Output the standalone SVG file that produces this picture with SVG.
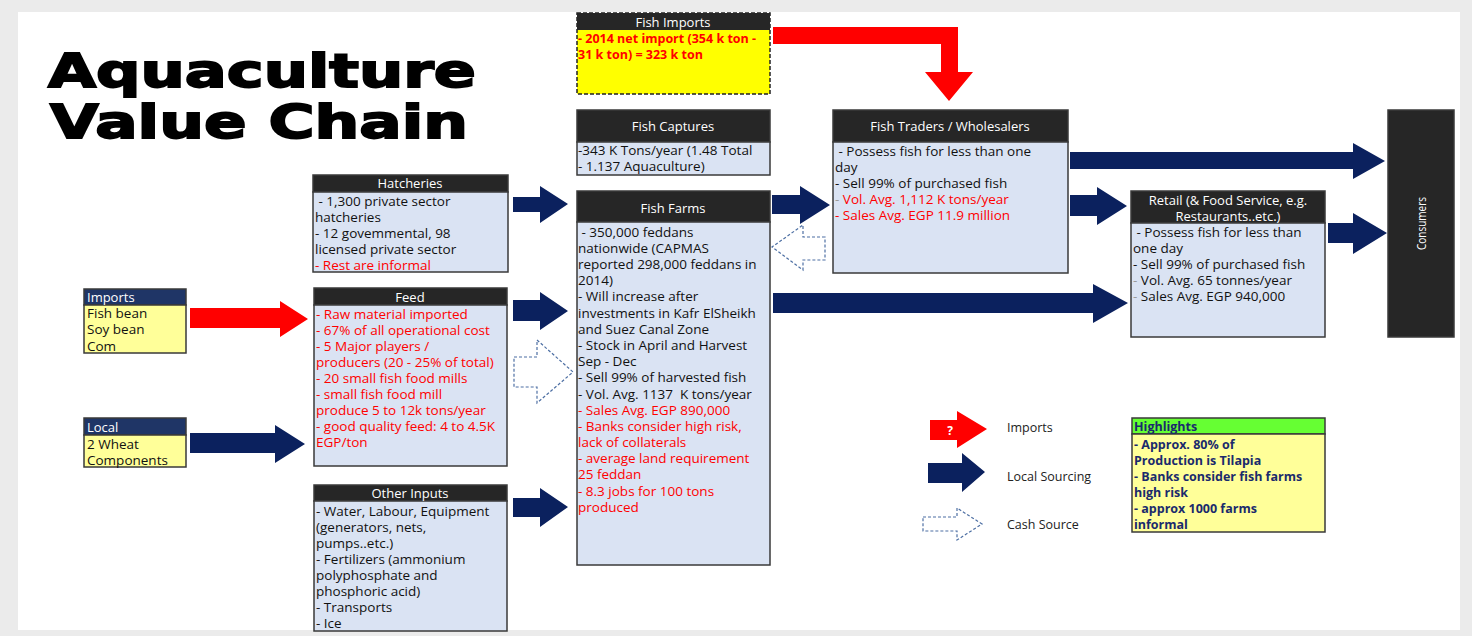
<svg xmlns="http://www.w3.org/2000/svg" width="1472" height="636" viewBox="0 0 1472 636">
<style>
.hdr{fill:#262626;stroke:#3a3a3a;stroke-width:1.5}
.body{fill:#dae3f3;stroke:#3a3a3a;stroke-width:1.5}
.ylw{fill:#ffff99;stroke:#3a3a3a;stroke-width:1.5}
.nhdr{fill:#1f3566;stroke:#3a3a3a;stroke-width:1.5}
.ht{fill:#ffffff;font-family:"Open Sans",sans-serif;font-size:13px;text-anchor:middle}
.t{fill:#111111;font-family:"Open Sans",sans-serif;font-size:13.5px}
.r{fill:#ff0000}
.g{fill:#9a9a9a}
.navy{fill:#0b215e}
.red{fill:#ff0000}
.cash{fill:none;stroke:#4d6fa3;stroke-width:1.2;stroke-dasharray:3 2}
.title{font-family:"DejaVu Sans",sans-serif;font-weight:bold;font-size:46px;fill:#000;stroke:#000;stroke-width:1.8}
.hl{fill:#1a2a6c;font-family:"Open Sans",sans-serif;font-size:12.5px;font-weight:bold}
.lg{fill:#222;font-family:"Open Sans",sans-serif;font-size:12.5px}
</style>
<rect x="0" y="0" width="1472" height="636" fill="#ebebeb"/>
<rect x="18" y="12" width="1442" height="618" fill="#ffffff"/>

<g id="title">
<text class="title" x="48" y="87" textLength="428" lengthAdjust="spacingAndGlyphs">Aquaculture</text>
<text class="title" x="50" y="138" textLength="418" lengthAdjust="spacingAndGlyphs">Value Chain</text>
</g>

<g id="connectors">
<path class="red" d="M773,27 H958 V72 H973 L949,101 L925,72 H941 V44 H773 Z"/>
<path class="red" d="M190,308 H280 V301 L308,319 L280,337 V328 H190 Z"/>
<path class="navy" d="M190,433 H275 V425 L305,444 L275,463 V453 H190 Z"/>
<path class="navy" d="M513,197 H540 V186 L568,204 L540,223 V212 H513 Z"/>
<path class="navy" d="M513,300 H540 V292 L568,311 L540,330 V321 H513 Z"/>
<path class="navy" d="M513,498 H540 V488 L568,507 L540,527 V517 H513 Z"/>
<path class="cash" d="M514,357 H537 V340 L573,372 L537,403 V387 H514 Z"/>
<path class="navy" d="M772,195 H800 V186 L830,205 L800,224 V214 H772 Z"/>
<path class="cash" d="M825,237 H803 V225 L772,247 L803,270 V260 H825 Z"/>
<path class="navy" d="M773,293 H1093 V284 L1128,303 L1093,323 V313 H773 Z"/>
<path class="navy" d="M1070,195 H1097 V187 L1127,206 L1097,225 V216 H1070 Z"/>
<path class="navy" d="M1070,152 H1353 V143 L1385,161 L1353,179 V169 H1070 Z"/>
<path class="navy" d="M1328,223 H1353 V213 L1387,233 L1353,254 V243 H1328 Z"/>
</g>

<g id="fish-imports">
<rect x="577" y="13" width="193" height="81" fill="#ffff00" stroke="#222" stroke-width="1.5" stroke-dasharray="4 2"/>
<rect x="577" y="13" width="193" height="17" fill="#262626"/>
<text class="ht" x="673" y="26.5">Fish Imports</text>
<text class="t r" font-weight="bold" style="font-size:12.5px"><tspan x="578" y="43">- 2014 net import (354 k ton -</tspan><tspan x="578" y="58.5">31 k ton) = 323 k ton</tspan></text>
</g>

<g id="fish-captures">
<rect class="hdr" x="577" y="110" width="193" height="32"/>
<rect class="body" x="577" y="142" width="193" height="33"/>
<text class="ht" x="673" y="130.5">Fish Captures</text>
<text class="t"><tspan x="578" y="155">-343 K Tons/year (1.48 Total</tspan><tspan x="578" y="171">- 1.137 Aquaculture)</tspan></text>
</g>

<g id="fish-farms">
<rect class="hdr" x="577" y="191" width="193" height="31"/>
<rect class="body" x="577" y="222" width="193" height="343"/>
<text class="ht" x="673" y="212.5">Fish Farms</text>
<text class="t">
<tspan x="578" y="236.5">&#160;- 350,000 feddans</tspan>
<tspan x="578" dy="16.2">nationwide (CAPMAS</tspan>
<tspan x="578" dy="16.2">reported 298,000 feddans in</tspan>
<tspan x="578" dy="16.2">2014)</tspan>
<tspan x="578" dy="16.2">- Will increase after</tspan>
<tspan x="578" dy="16.2">investments in Kafr ElSheikh</tspan>
<tspan x="578" dy="16.2">and Suez Canal Zone</tspan>
<tspan x="578" dy="16.2">- Stock in April and Harvest</tspan>
<tspan x="578" dy="16.2">Sep - Dec</tspan>
<tspan x="578" dy="16.2">- Sell 99% of harvested fish</tspan>
<tspan x="578" dy="16.2">- Vol. Avg. 1137&#160; K tons/year</tspan>
<tspan class="r" x="578" dy="16.2">- Sales Avg. EGP 890,000</tspan>
<tspan class="r" x="578" dy="16.2">- Banks consider high risk,</tspan>
<tspan class="r" x="578" dy="16.2">lack of collaterals</tspan>
<tspan class="r" x="578" dy="16.2">- average land requirement</tspan>
<tspan class="r" x="578" dy="16.2">25 feddan</tspan>
<tspan class="r" x="578" dy="16.2">- 8.3 jobs for 100 tons</tspan>
<tspan class="r" x="578" dy="16.2">produced</tspan>
</text>
</g>

<g id="fish-traders">
<rect class="hdr" x="833" y="110" width="235" height="32"/>
<rect class="body" x="833" y="142" width="235" height="131"/>
<text class="ht" x="950" y="130.5">Fish Traders / Wholesalers</text>
<text class="t">
<tspan x="835" y="155.5">&#160;- Possess fish for less than one</tspan>
<tspan x="835" dy="16.1">day</tspan>
<tspan x="835" dy="16.1">- Sell 99% of purchased fish</tspan>
<tspan x="835" dy="16.1"><tspan class="g">-</tspan><tspan class="r"> Vol. Avg. 1,112 K tons/year</tspan></tspan>
<tspan class="r" x="835" dy="16.1">- Sales Avg. EGP 11.9 million</tspan>
</text>
</g>

<g id="hatcheries">
<rect class="hdr" x="313" y="175" width="195" height="17"/>
<rect class="body" x="313" y="192" width="195" height="80"/>
<text class="ht" x="410" y="187.5">Hatcheries</text>
<text class="t">
<tspan x="315" y="205.5">&#160;- 1,300 private sector</tspan>
<tspan x="315" dy="16">hatcheries</tspan>
<tspan x="315" dy="16">- 12 govemmental, 98</tspan>
<tspan x="315" dy="16">licensed private sector</tspan>
<tspan class="r" x="315" dy="16">- Rest are informal</tspan>
</text>
</g>

<g id="feed">
<rect class="hdr" x="314" y="288" width="193" height="17"/>
<rect class="body" x="314" y="305" width="193" height="161"/>
<text class="ht" x="410" y="301.5">Feed</text>
<text class="t r">
<tspan x="316" y="318.5">- Raw material imported</tspan>
<tspan x="316" dy="16.1">- 67% of all operational cost</tspan>
<tspan x="316" dy="16.1">- 5 Major players /</tspan>
<tspan x="316" dy="16.1">producers (20 - 25% of total)</tspan>
<tspan x="316" dy="16.1">- 20 small fish food mills</tspan>
<tspan x="316" dy="16.1">- small fish food mill</tspan>
<tspan x="316" dy="16.1">produce 5 to 12k tons/year</tspan>
<tspan x="316" dy="16.1">- good quality feed: 4 to 4.5K</tspan>
<tspan x="316" dy="16.1">EGP/ton</tspan>
</text>
</g>

<g id="other-inputs">
<rect class="hdr" x="314" y="485" width="193" height="16"/>
<rect class="body" x="314" y="501" width="193" height="130"/>
<text class="ht" x="410" y="497.5">Other Inputs</text>
<text class="t">
<tspan x="316" y="515.5">- Water, Labour, Equipment</tspan>
<tspan x="316" dy="16.1">(generators, nets,</tspan>
<tspan x="316" dy="16.1">pumps..etc.)</tspan>
<tspan x="316" dy="16.1">- Fertilizers (ammonium</tspan>
<tspan x="316" dy="16.1">polyphosphate and</tspan>
<tspan x="316" dy="16.1">phosphoric acid)</tspan>
<tspan x="316" dy="16.1">- Transports</tspan>
<tspan x="316" dy="16.1">- Ice</tspan>
</text>
</g>

<g id="imports">
<rect class="nhdr" x="84" y="289" width="102" height="16"/>
<rect class="ylw" x="84" y="305" width="102" height="48"/>
<text class="t" x="87" y="301.5" style="fill:#ffffff;font-size:13px">Imports</text>
<text class="t"><tspan x="87" y="317.5">Fish bean</tspan><tspan x="87" y="334">Soy bean</tspan><tspan x="87" y="350.5">Com</tspan></text>
</g>

<g id="local">
<rect class="nhdr" x="84" y="418" width="102" height="17"/>
<rect class="ylw" x="84" y="435" width="102" height="32"/>
<text class="t" x="87" y="431.5" style="fill:#ffffff;font-size:13px">Local</text>
<text class="t"><tspan x="87" y="448.5">2 Wheat</tspan><tspan x="87" y="465">Components</tspan></text>
</g>

<g id="retail">
<rect class="hdr" x="1131" y="191" width="194" height="32"/>
<rect class="body" x="1131" y="223" width="194" height="114"/>
<text class="ht"><tspan x="1228" y="204.5">Retail (&amp; Food Service, e.g.</tspan><tspan x="1228" y="221">Restaurants..etc.)</tspan></text>
<text class="t">
<tspan x="1133" y="236.5">&#160;- Possess fish for less than</tspan>
<tspan x="1133" dy="16">one day</tspan>
<tspan x="1133" dy="16">- Sell 99% of purchased fish</tspan>
<tspan x="1133" dy="16"><tspan class="g">-</tspan> Vol. Avg. 65 tonnes/year</tspan>
<tspan x="1133" dy="16"><tspan class="g">-</tspan> Sales Avg. EGP 940,000</tspan>
</text>
</g>

<g id="consumers">
<rect x="1388" y="110" width="66" height="227" fill="#262626" stroke="#3a3a3a" stroke-width="1.5"/>
<text x="1426" y="223.5" transform="rotate(-90 1426 223.5)" text-anchor="middle" font-family="Open Sans, sans-serif" font-size="12px" fill="#ffffff" textLength="53" lengthAdjust="spacingAndGlyphs">Consumers</text>
</g>

<g id="legend">
<path class="red" d="M930,420 H957 V411 L987,429 L957,448 V440 H930 Z"/>
<text x="950" y="435" text-anchor="middle" font-family="Open Sans, sans-serif" font-weight="bold" font-size="12px" fill="#ffffff">?</text>
<text class="lg" x="1007" y="432">Imports</text>
<path class="navy" d="M928,463 H962 V453 L985,472 L962,492 V483 H928 Z"/>
<text class="lg" x="1007" y="481">Local Sourcing</text>
<path class="cash" d="M923,517 H957 V508 L982,524 L957,540 V531 H923 Z"/>
<text class="lg" x="1007" y="528.5">Cash Source</text>
</g>

<g id="highlights">
<rect x="1132" y="418" width="193" height="16" fill="#66ff33" stroke="#3a3a3a" stroke-width="1.5"/>
<rect class="ylw" x="1132" y="434" width="193" height="98"/>
<text class="hl" x="1134" y="430.5">Highlights</text>
<text class="hl">
<tspan x="1134" y="448.5">- Approx. 80% of</tspan>
<tspan x="1134" dy="16">Production is Tilapia</tspan>
<tspan x="1134" dy="16">- Banks consider fish farms</tspan>
<tspan x="1134" dy="16">high risk</tspan>
<tspan x="1134" dy="16">- approx 1000 farms</tspan>
<tspan x="1134" dy="16">informal</tspan>
</text>
</g>
</svg>
